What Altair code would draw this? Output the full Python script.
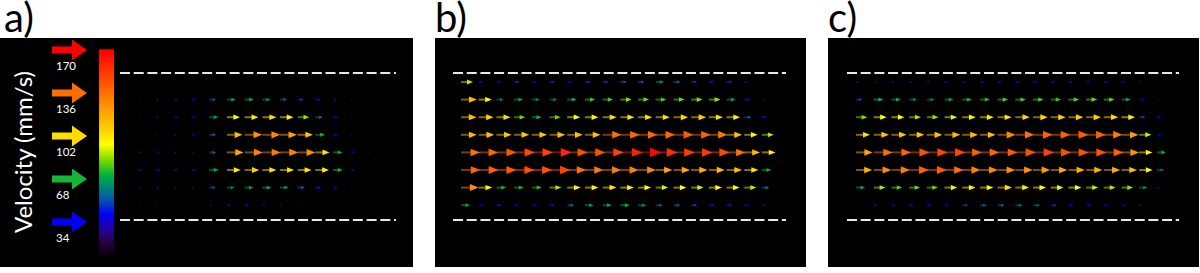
import altair as alt
import pandas as pd
import numpy as np

# ---------------- data (speeds in mm/s, rows top -> bottom, columns left -> right) -------------
speed_a = [
    [2, 3, 5, 8, 8, 9, 9, 9, 9, 9, 8, 8, 7, 3, 2],
    [12, 14, 20, 28, 30, 48, 62, 65, 58, 50, 42, 35, 26, 14, 8],
    [8, 12, 20, 30, 32, 64, 92, 98, 100, 95, 82, 52, 34, 14, 6],
    [6, 8, 14, 22, 26, 50, 110, 125, 128, 120, 108, 68, 34, 14, 5],
    [12, 22, 24, 22, 16, 50, 118, 130, 132, 130, 125, 100, 66, 30, 12],
    [14, 30, 30, 30, 30, 66, 98, 104, 100, 100, 98, 96, 68, 26, 8],
    [12, 22, 22, 20, 20, 46, 54, 62, 64, 60, 50, 38, 30, 14, 6],
    [10, 12, 12, 12, 12, 20, 30, 28, 22, 16, 12, 8, 8, 2, 1],
]
speed_b = [
    [85, 28, 32, 40, 32, 40, 34, 42, 42, 46, 46, 58, 50, 42, 36, 40, 24, 10],
    [112, 92, 52, 62, 56, 54, 66, 72, 74, 80, 78, 74, 78, 80, 82, 64, 38, 20],
    [110, 105, 100, 78, 68, 78, 92, 95, 100, 100, 100, 100, 104, 106, 100, 96, 50, 36],
    [112, 110, 108, 106, 108, 112, 110, 110, 135, 138, 138, 138, 142, 140, 132, 110, 95, 84],
    [135, 138, 142, 148, 150, 158, 145, 145, 150, 160, 168, 155, 152, 152, 148, 135, 112, 96],
    [138, 140, 142, 145, 145, 148, 135, 132, 132, 130, 128, 118, 118, 115, 112, 110, 100, 66],
    [125, 96, 68, 68, 70, 84, 95, 96, 98, 96, 92, 88, 92, 88, 92, 92, 86, 52],
    [64, 34, 36, 34, 34, 36, 50, 62, 64, 66, 58, 50, 48, 44, 38, 38, 34, 22],
]
speed_c = [
    [20, 20, 22, 22, 22, 22, 24, 28, 28, 30, 32, 30, 28, 28, 28, 24, 16, 10],
    [44, 68, 66, 56, 54, 62, 68, 70, 74, 74, 74, 72, 76, 78, 76, 64, 34, 14],
    [80, 92, 92, 84, 82, 90, 96, 98, 100, 102, 104, 106, 106, 106, 102, 96, 44, 30],
    [100, 108, 108, 108, 110, 112, 112, 112, 128, 135, 140, 140, 142, 140, 132, 120, 86, 34],
    [118, 135, 140, 145, 148, 148, 140, 138, 142, 145, 150, 145, 144, 144, 140, 125, 94, 64],
    [115, 125, 132, 140, 142, 136, 130, 128, 126, 124, 122, 118, 116, 115, 116, 110, 94, 52],
    [64, 84, 76, 78, 78, 90, 94, 96, 102, 98, 92, 90, 92, 86, 84, 82, 58, 22],
    [8, 24, 30, 32, 32, 34, 42, 48, 50, 52, 50, 42, 36, 34, 34, 30, 20, 10],
    [3, 4, 10, 10, 10, 10, 10, 10, 10, 10, 10, 10, 10, 10, 10, 10, 4, 3],
]
legend_values = [170, 136, 102, 68, 34]
panel_labels = ["a)", "b)", "c)"]
colorbar_title = "Velocity (mm/s)"
VMAX = 170

# colour map (dark -> blue -> green -> yellow -> orange -> red)
color_domain = [0, 10, 20, 34, 45, 55, 66, 78, 92, 110, 130, 150, 170]
color_range = ["#0a000f", "#26003c", "#2a0090", "#0000ff", "#0050b0", "#008080",
               "#00b040", "#70d800", "#ffff00", "#ffc000", "#ff8000", "#ff4000", "#ff0000"]
cscale = alt.Scale(domain=color_domain, range=color_range, interpolate="rgb")

FONT = "Lato"
HEAD = "M-1,-0.8L1,0L-1,0.8Z"
LEG_ARROW = "M-1,-0.2L0.14,-0.2L0.14,-0.6L1,0L0.14,0.6L0.14,0.2L-1,0.2Z"

# layout: rows are 17.6 px apart, columns 17.7 px apart
PLOT_H = 229
Y_DOM = [-2.5, 10.511]
WALLS = [-0.51, 7.84]


def grid_df(speeds):
    recs = []
    for r, row in enumerate(speeds):
        for c, v in enumerate(row):
            recs.append({"row": r, "col": c, "speed": v})
    return pd.DataFrame(recs)


def flow_layers(speeds, x_dom, wall_x):
    df = grid_df(speeds)
    xs = alt.Scale(domain=x_dom, nice=False, zero=False)
    ys = alt.Scale(domain=Y_DOM, reverse=True, nice=False, zero=False)
    base = alt.Chart(df).transform_calculate(
        tip=f"datum.col + 1.02 * datum.speed / {VMAX}"
    )
    shaft = base.mark_rule(strokeWidth=2, opacity=0.5, strokeCap="butt").encode(
        x=alt.X("col:Q", scale=xs, axis=None),
        x2="tip:Q",
        y=alt.Y("row:Q", scale=ys, axis=None),
        color=alt.Color("speed:Q", scale=cscale, legend=None),
    )
    head = base.mark_point(shape=HEAD, filled=True, opacity=1, strokeWidth=0).encode(
        x=alt.X("tip:Q", scale=xs, axis=None),
        y=alt.Y("row:Q", scale=ys, axis=None),
        color=alt.Color("speed:Q", scale=cscale, legend=None),
        size=alt.Size("speed:Q", scale=alt.Scale(type="pow", exponent=2, domain=[0, VMAX],
                                                 range=[2, 140]), legend=None),
    )
    wdf = pd.DataFrame({"wy": WALLS, "x0": [wall_x[0]] * 2, "x1": [wall_x[1]] * 2})
    walls = alt.Chart(wdf).mark_rule(color="#e8e8e8", strokeWidth=2, strokeDash=[10, 3.7]).encode(
        x=alt.X("x0:Q", scale=xs, axis=None),
        x2="x1:Q",
        y=alt.Y("wy:Q", scale=ys, axis=None),
    )
    return [walls, shaft, head]


def title(t, dx):
    return alt.TitleParams(t, anchor="start", fontSize=40, font=FONT, fontWeight="normal",
                           color="black", dx=dx, offset=-2)


# ---- panel a: legend + colorbar + field ----
cb_df = pd.DataFrame({"v": np.arange(0, VMAX + 0.5, 0.5)})
colorbar = alt.Chart(cb_df).mark_rule(strokeWidth=1.4).encode(
    x=alt.value(99.3), x2=alt.value(114),
    y=alt.Y("v:Q", scale=alt.Scale(domain=[-9.95, 179.95], nice=False, zero=False), axis=None),
    color=alt.Color("v:Q", scale=cscale, legend=None),
)
leg_df = pd.DataFrame({"v": legend_values, "label": [str(v) for v in legend_values]})
leg_y = alt.Scale(domain=[-1.58, 179.49], nice=False, zero=False)
leg_arrows = alt.Chart(leg_df).mark_point(shape=LEG_ARROW, filled=True, opacity=1, strokeWidth=0,
                                          size=1225).encode(
    x=alt.value(69.5),
    y=alt.Y("v:Q", scale=leg_y, axis=None),
    color=alt.Color("v:Q", scale=cscale, legend=None),
)
leg_text = alt.Chart(leg_df).mark_text(align="left", baseline="middle", dy=17, fontSize=11.5,
                                       font=FONT, color="white").encode(
    x=alt.value(56),
    y=alt.Y("v:Q", scale=leg_y, axis=None),
    text="label:N",
)
vel_title = alt.Chart(pd.DataFrame({"t": [colorbar_title]})).mark_text(
    angle=270, align="center", baseline="middle", fontSize=24, font=FONT, color="white"
).encode(x=alt.value(25), y=alt.value(114), text="t:N")

panel_a = alt.layer(
    colorbar, leg_arrows, leg_text, vel_title,
    *flow_layers(speed_a, [-6.819, 16.514], [-0.04, 15.55]),
).resolve_scale(y="independent").properties(width=413, height=PLOT_H, title=title(panel_labels[0], 4))

panel_b = alt.layer(
    *flow_layers(speed_b, [-1.469, 19.49], [-0.45, 18.36]),
).resolve_scale(y="independent").properties(width=371, height=PLOT_H, title=title(panel_labels[1], 0))

panel_c = alt.layer(
    *flow_layers(speed_c, [-1.582, 19.379], [-0.51, 18.25]),
).resolve_scale(y="independent").properties(width=371, height=PLOT_H, title=title(panel_labels[2], 0))

chart = alt.hconcat(panel_a, panel_b, panel_c, spacing=22,
                    padding={"left": 0, "top": 0, "right": 0, "bottom": 0},
                    background="white").configure_view(fill="black", strokeWidth=0)

chart.save("out.html", embed_options={"renderer": "svg", "actions": False})
